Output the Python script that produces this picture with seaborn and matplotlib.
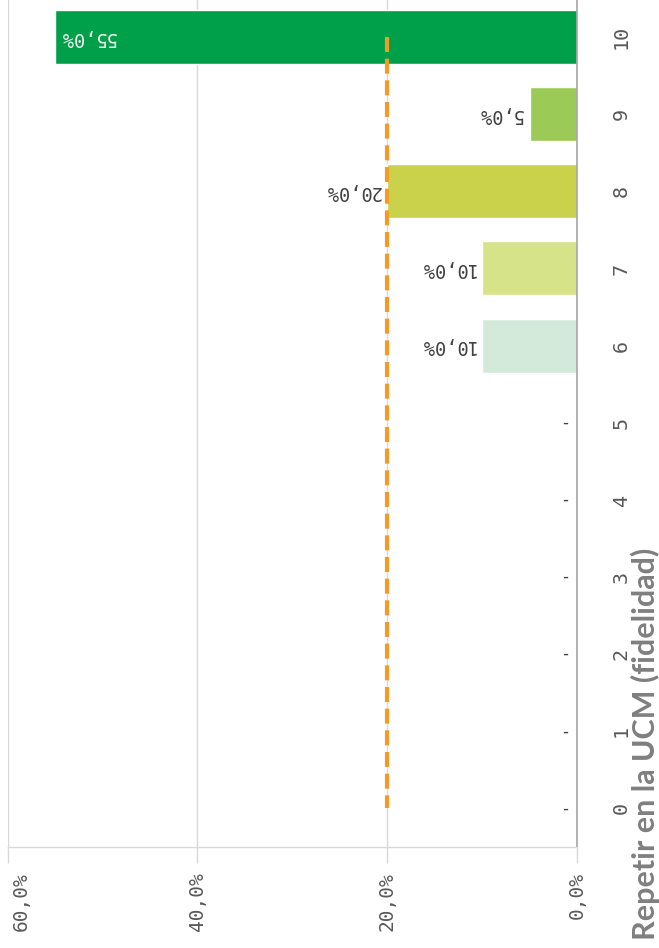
import matplotlib
matplotlib.use('Agg')
import matplotlib.pyplot as plt
import matplotlib.transforms as mtransforms
import seaborn as sns
import pandas as pd

# ---- data ----
categories = ['0', '1', '2', '3', '4', '5', '6', '7', '8', '9', '10']
values = [0.0, 0.0, 0.0, 0.0, 0.0, 0.0, 10.0, 10.0, 20.0, 5.0, 55.0]
bar_colors = ['#D3EADA', '#D3EADA', '#D3EADA', '#D3EADA', '#D3EADA', '#D3EADA',
              '#D3EADA', '#D6E388', '#CAD24B', '#9BCB56', '#00A04A']
mean_value = 20.0
value_ticks = [0, 20, 40, 60]
value_tick_labels = ['0,0%', '20,0%', '40,0%', '60,0%']
title = 'Repetir en la UCM (fidelidad)'

sns.set_theme(style='white')
plt.rcParams['font.family'] = ['DejaVu Sans Mono', 'DejaVu Sans']

W, H = 659, 948
fig = plt.figure(figsize=(W / 100, H / 100), dpi=100)
left_px, right_px, bottom_px, top_px = 7.6, 577, 847, -1.5
ax = fig.add_axes([left_px / W, 1 - bottom_px / H,
                   (right_px - left_px) / W, (bottom_px - top_px) / H])

order = categories[::-1]
df = pd.DataFrame({'cat': categories, 'val': values})
palette = dict(zip(categories, bar_colors))
sns.barplot(data=df, x='val', y='cat', order=order, hue='cat', hue_order=order,
            palette=palette, width=0.7, legend=False, ax=ax, orient='h',
            saturation=1, errorbar=None)

n = len(categories)
ax.set_xlim(max(value_ticks), 0)
ax.set_ylim(n - 0.5, -0.5)

# mean dashed line
ax.plot([mean_value] * n, list(range(n)), color='#F29B26', lw=3.0,
        linestyle=(0, (3.6, 1.6)), solid_capstyle='butt', zorder=4)

# grid
ax.set_xticks(value_ticks)
ax.set_xticklabels(value_tick_labels, rotation=90, fontsize=14,
                   color='#595959', family=['DejaVu Sans Mono'])
ax.grid(axis='x', color='#D9D9D9', lw=1)
ax.set_axisbelow(True)
ax.tick_params(axis='x', length=11.5, width=1, color='#D9D9D9', pad=6.5,
               bottom=True)
# keep the outermost tick label inside the figure
for lab in ax.get_xticklabels():
    if lab.get_text() == value_tick_labels[-1]:
        lab.set_transform(lab.get_transform() +
                          mtransforms.ScaledTranslation(14 / 100, 0, fig.dpi_scale_trans))

# category axis on the right
ax.yaxis.tick_right()
ax.set_yticks(list(range(n)))
ax.set_yticklabels(order, rotation=90, fontsize=14.5, color='#595959',
                   va='center', ha='left')
ax.tick_params(axis='y', length=0, pad=25)
ax.set_xlabel('')
ax.set_ylabel('')

for s in ['top', 'left']:
    ax.spines[s].set_visible(False)
ax.spines['right'].set_color('#A6A6A6')
ax.spines['right'].set_linewidth(1.2)
ax.spines['bottom'].set_color('#D9D9D9')
ax.spines['bottom'].set_linewidth(1)

# data labels
for c, v in zip(categories, values):
    pos = order.index(c)
    if v == 0:
        ax.annotate('-', xy=(0, pos), xytext=(-5, 0), textcoords='offset points',
                    ha='right', va='center', fontsize=12, color='#404040')
    elif v > 40:
        ax.annotate(f'{v:.1f}%'.replace('.', ','), xy=(v, pos), xytext=(3, 0),
                    textcoords='offset points', ha='left', va='center',
                    rotation=180, fontsize=13.5, color='#F2F2F2')
    else:
        ax.annotate(f'{v:.1f}%'.replace('.', ','), xy=(v, pos), xytext=(-5, 0),
                    textcoords='offset points', ha='right', va='center',
                    rotation=180, fontsize=13.5, color='#404040')

fig.text(645 / W, 1 - 548 / H, title, rotation=90, ha='center', va='top',
         fontsize=22, fontweight='bold', color='#7F7F7F',
         family=['Lato', 'DejaVu Sans'])

fig.savefig('out.png', dpi=100, facecolor='white')
